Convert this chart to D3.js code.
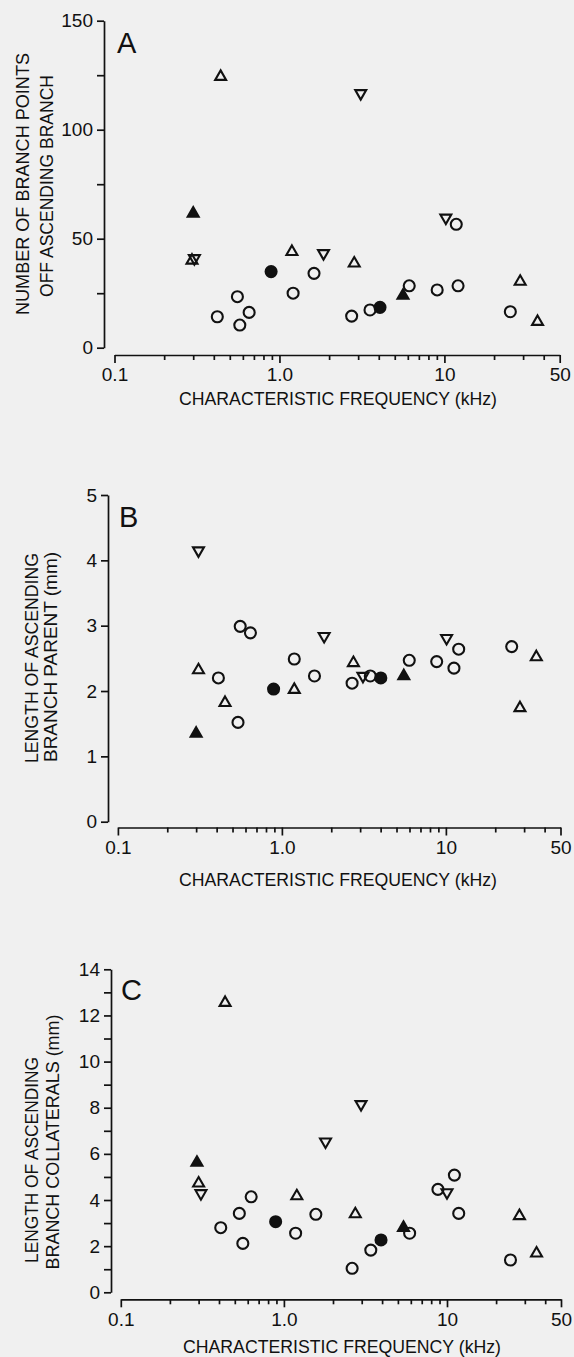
<!DOCTYPE html>
<html>
<head>
<meta charset="utf-8">
<script src="https://cdn.jsdelivr.net/npm/d3@7"></script>
<style>
  body { margin: 0; background: #f0f0f0; }
  svg { display: block; }
  .axis path, .axis line { stroke: #111; stroke-width: 1.7px; }
  .axis text { font-family: "Liberation Sans", Arial, Helvetica, sans-serif; font-size: 19px; fill: #111; }
  .lbl { font-family: "Liberation Sans", Arial, Helvetica, sans-serif; fill: #111; }
</style>
</head>
<body>
<svg id="chart"></svg>
<script>
const width = 574;
const height = 1357;

// symbols: "o" open circle, "f" filled circle, "t" open triangle, "T" filled triangle, "v" open inverted triangle
const branchPoints = [
    [0.42, 14.2, "o"], [0.556, 23.4, "o"], [0.575, 10.4, "o"], [0.655, 16.2, "o"], [1.21, 25, "o"],
    [1.62, 34.1, "o"], [2.74, 14.5, "o"], [3.54, 17.3, "o"], [6.12, 28.4, "o"], [9.04, 26.5, "o"],
    [12.1, 28.4, "o"], [11.8, 56.6, "o"], [25.1, 16.5, "o"],
    [0.89, 34.9, "f"], [4.07, 18.5, "f"],
    [0.44, 124.3, "t"], [0.295, 40, "t"], [1.19, 44, "t"], [2.84, 38.7, "t"], [28.8, 30.3, "t"], [36.7, 11.9, "t"],
    [0.30, 61.6, "T"], [5.61, 23.9, "T"],
    [3.11, 116.7, "v"], [0.305, 41, "v"], [1.85, 43.3, "v"], [10.2, 59.6, "v"]
];

const parentLength = [
    [0.41, 2.2, "o"], [0.54, 1.52, "o"], [0.557, 2.99, "o"], [0.643, 2.89, "o"], [1.19, 2.49, "o"],
    [1.58, 2.23, "o"], [2.68, 2.12, "o"], [3.46, 2.23, "o"], [5.98, 2.47, "o"], [8.79, 2.45, "o"],
    [11.97, 2.64, "o"], [11.2, 2.35, "o"], [25.2, 2.68, "o"],
    [0.89, 2.03, "f"], [4.01, 2.2, "f"],
    [0.31, 2.32, "t"], [0.45, 1.82, "t"], [1.19, 2.02, "t"], [2.73, 2.43, "t"], [35.6, 2.52, "t"], [28.3, 1.74, "t"],
    [0.30, 1.35, "T"], [5.54, 2.23, "T"],
    [0.31, 4.15, "v"], [1.81, 2.84, "v"], [3.12, 2.23, "v"], [10.1, 2.81, "v"]
];

const collateralLength = [
    [0.41, 2.8, "o"], [0.533, 3.42, "o"], [0.56, 2.12, "o"], [0.63, 4.14, "o"], [1.18, 2.56, "o"],
    [1.57, 3.38, "o"], [2.62, 1.04, "o"], [3.41, 1.83, "o"], [5.9, 2.56, "o"], [8.8, 4.46, "o"],
    [11.1, 5.08, "o"], [11.8, 3.42, "o"], [24.5, 1.4, "o"],
    [0.89, 3.06, "f"], [3.94, 2.27, "f"],
    [0.436, 12.55, "t"], [0.30, 4.72, "t"], [1.2, 4.17, "t"], [2.74, 3.39, "t"], [27.8, 3.31, "t"], [35.4, 1.69, "t"],
    [0.293, 5.62, "T"], [5.41, 2.8, "T"],
    [2.97, 8.15, "v"], [1.80, 6.53, "v"], [0.31, 4.29, "v"], [10, 4.33, "v"]
];

const xTicks = [0.1, 0.2, 0.3, 0.4, 0.5, 0.6, 0.7, 0.8, 0.9, 1, 2, 3, 4, 5, 6, 7, 8, 9, 10, 20, 30, 40, 50];
const xTickLabels = new Map([[0.1, "0.1"], [1, "1.0"], [10, "10"], [50, "50"]]);
const xTitle = "CHARACTERISTIC FREQUENCY (kHz)";

const yTicksA = [0, 25, 50, 75, 100, 125, 150];
const yLabelsA = [0, 50, 100, 150];
const yTicksB = [0, 1, 2, 3, 4, 5];
const yLabelsB = [0, 1, 2, 3, 4, 5];
const yTicksC = [0, 1, 2, 3, 4, 5, 6, 7, 8, 9, 10, 11, 12, 13, 14];
const yLabelsC = [0, 2, 4, 6, 8, 10, 12, 14];

const svg = d3.select("#chart").attr("width", width).attr("height", height);
svg.append("rect").attr("width", width).attr("height", height).attr("fill", "#f0f0f0");

function drawPanel(p) {
    const x = d3.scaleLog().domain([0.1, 50]).range([p.x0, p.x1]);
    const y = d3.scaleLinear().domain([0, d3.max(p.yTicks)]).range([p.yBottom, p.yTop]);
    const g = svg.append("g");

    // y axis
    g.append("g")
        .attr("class", "axis")
        .attr("transform", "translate(" + p.yAxisX + ",0)")
        .call(d3.axisLeft(y).tickValues(p.yTicks).tickSize(7).tickSizeOuter(0).tickPadding(4)
            .tickFormat(d => p.yLabels.includes(d) ? d : ""));

    // x axis, sits a bit below the y=0 tick
    const xAxis = g.append("g")
        .attr("class", "axis")
        .attr("transform", "translate(0," + p.xAxisY + ")")
        .call(d3.axisBottom(x).tickValues(xTicks).tickSize(8).tickSizeOuter(0).tickPadding(5)
            .tickFormat(d => xTickLabels.has(d) ? xTickLabels.get(d) : ""));
    xAxis.selectAll(".tick line").attr("y2", d => xTickLabels.has(d) ? 8 : 5);

    // axis titles
    g.append("text")
        .attr("class", "lbl")
        .attr("x", p.xTitleX)
        .attr("y", p.xTitleY)
        .attr("text-anchor", "middle")
        .attr("font-size", 19)
        .attr("textLength", 318)
        .attr("lengthAdjust", "spacingAndGlyphs")
        .text(xTitle);

    p.yTitle.forEach((line, i) => {
        g.append("text")
            .attr("class", "lbl")
            .attr("transform", "translate(" + line.x + "," + line.y + ") rotate(-90)")
            .attr("text-anchor", "middle")
            .attr("font-size", 19)
            .attr("textLength", line.len)
            .attr("lengthAdjust", "spacingAndGlyphs")
            .text(line.text);
    });

    // panel letter
    g.append("text")
        .attr("class", "lbl")
        .attr("x", p.letterX)
        .attr("y", p.letterY)
        .attr("font-size", 29)
        .text(p.letter);

    const tri = d3.symbol().type(d3.symbolTriangle).size(52);
    const circ = d3.symbol().type(d3.symbolCircle).size(Math.PI * 5.5 * 5.5);

    g.selectAll(".pt").data(p.data).enter()
        .append("path")
        .attr("class", "pt")
        .attr("transform", d => "translate(" + x(d[0]) + "," + y(d[1]) + ")" + (d[2] == "v" ? " rotate(180)" : ""))
        .attr("d", d => (d[2] == "o" || d[2] == "f") ? circ() : tri())
        .attr("fill", d => (d[2] == "f" || d[2] == "T") ? "#111" : "none")
        .attr("stroke", "#111")
        .attr("stroke-width", 2.1);
}

drawPanel({
    data: branchPoints, yTicks: yTicksA, yLabels: yLabelsA,
    x0: 114.5, x1: 559.7, yTop: 20.7, yBottom: 347.7, yAxisX: 104, xAxisY: 355,
    xTitleX: 338, xTitleY: 405, letter: "A", letterX: 117, letterY: 53,
    yTitle: [{ text: "NUMBER OF BRANCH POINTS", x: 29, y: 184, len: 262 },
             { text: "OFF ASCENDING BRANCH", x: 53, y: 186, len: 222 }]
});

drawPanel({
    data: parentLength, yTicks: yTicksB, yLabels: yLabelsB,
    x0: 117.9, x1: 560.5, yTop: 495, yBottom: 821.7, yAxisX: 108, xAxisY: 827.5,
    xTitleX: 338, xTitleY: 886, letter: "B", letterX: 119, letterY: 527,
    yTitle: [{ text: "LENGTH OF ASCENDING", x: 38, y: 658, len: 210 },
             { text: "BRANCH PARENT (mm)", x: 56.5, y: 657, len: 210 }]
});

drawPanel({
    data: collateralLength, yTicks: yTicksC, yLabels: yLabelsC,
    x0: 120.8, x1: 561, yTop: 969.3, yBottom: 1292.3, yAxisX: 111, xAxisY: 1299.3,
    xTitleX: 342, xTitleY: 1353, letter: "C", letterX: 121, letterY: 1000,
    yTitle: [{ text: "LENGTH OF ASCENDING", x: 38.4, y: 1160, len: 206 },
             { text: "BRANCH COLLATERALS (mm)", x: 58.5, y: 1142, len: 255 }]
});
</script>
</body>
</html>
